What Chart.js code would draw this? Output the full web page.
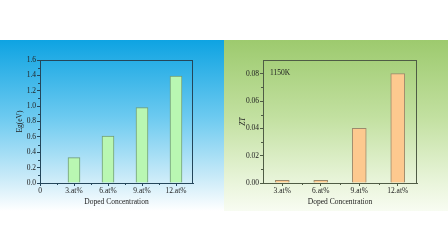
<!DOCTYPE html>
<html lang="en">
<head>
  <meta charset="UTF-8" />
  <title>Doped Concentration</title>
  <script src="https://cdn.jsdelivr.net/npm/chart.js"></script>
  <style>
    html, body { margin: 0; padding: 0; background: #fff; }
    body { width: 448px; height: 252px; position: relative; overflow: hidden; }
    .panel { position: absolute; top: 40px; width: 224px; height: 171px; }
    #left { left: 0; background: linear-gradient(to bottom, #0ea3e2 0%, #6ccaf0 45%, #c8eaf8 80%, #ffffff 100%); }
    #right { left: 224px; background: linear-gradient(to bottom, #9dca6e 0%, #c2e0a0 45%, #e6f3d6 80%, #f8fcf2 100%); }
    canvas { display: block; }
  </style>
</head>
<body>
  <div class="panel" id="left"><canvas id="egChart" width="224" height="171"></canvas></div>
  <div class="panel" id="right"><canvas id="ztChart" width="224" height="171"></canvas></div>

  <script>
    // left chart: band gap
    const egPos = [3, 6, 9, 12];
    const egValues = [0.33, 0.61, 0.98, 1.39];
    const egXTicks = [0, 3, 6, 9, 12];
    const egXMinor = [1.5, 4.5, 7.5, 10.5];
    const egYMinor = [0.1, 0.3, 0.5, 0.7, 0.9, 1.1, 1.3, 1.5];

    // right chart: ZT at 1150K
    const ztLabels = ['3.at%', '6.at%', '9.at%', '12.at%'];
    const ztValues = [0.002, 0.002, 0.04, 0.08];
    const ztYTicks = [0, 0.02, 0.04, 0.06, 0.08];
    const ztYMinor = [0.01, 0.03, 0.05, 0.07];

    const font = { family: '"Liberation Serif", "Times New Roman", serif', size: 7.5 };

    // minor ticks + box frame, drawn from the chart's own scales
    const framePlugin = {
      id: 'frame',
      afterDraw(chart, args, opts) {
        const ctx = chart.ctx, a = chart.chartArea;
        const xs = chart.scales.x, ys = chart.scales.y;
        ctx.save();
        ctx.strokeStyle = opts.color;
        ctx.lineWidth = 1;
        ctx.strokeRect(a.left + 0.5, a.top + 0.5, a.right - a.left - 1, a.bottom - a.top);
        ctx.beginPath();
        (opts.yMinor || []).forEach(v => {
          const y = Math.round(ys.getPixelForValue(v)) + 0.5;
          ctx.moveTo(a.left, y); ctx.lineTo(a.left - 2, y);
        });
        (opts.xMinor || []).forEach(v => {
          const x = Math.round(xs.getPixelForValue(v)) + 0.5;
          ctx.moveTo(x, a.bottom); ctx.lineTo(x, a.bottom + 2);
        });
        ctx.stroke();
        if (opts.note) {
          ctx.fillStyle = '#222';
          ctx.font = '7.5px "Liberation Serif", serif';
          ctx.textBaseline = 'middle';
          ctx.fillText(opts.note, a.left + 7, a.top + 13);
        }
        ctx.restore();
      }
    };

    function fixBox(width, height) {
      return {
        y: (s) => { s.width = width; },
        x: (s) => { s.height = height; }
      };
    }

    const egBox = fixBox(40, 28);
    new Chart(document.getElementById('egChart'), {
      type: 'bar',
      data: {
        datasets: [{
          data: egPos.map((p, i) => ({ x: p, y: egValues[i] })),
          backgroundColor: '#b9f7b2',
          borderColor: '#6f9c78',
          borderWidth: 1,
          barThickness: 12
        }]
      },
      options: {
        responsive: false,
        animation: false,
        layout: { padding: { left: 0, top: 20, right: 31, bottom: 0 } },
        plugins: {
          legend: { display: false },
          tooltip: { enabled: false },
          frame: { color: '#24465a', xMinor: egXMinor, yMinor: egYMinor }
        },
        scales: {
          x: {
            type: 'linear', min: 0, max: 13.5, offset: false,
            afterBuildTicks: (s) => { s.ticks = egXTicks.map(v => ({ value: v })); },
            afterFit: egBox.x,
            grid: { drawOnChartArea: false, offset: false, tickLength: 3, color: '#24465a' },
            border: { display: true, color: '#24465a' },
            ticks: { font, color: '#222', padding: 1, maxRotation: 0,
              callback: (v) => v === 0 ? '0' : v + '.at%' },
            title: { display: true, text: 'Doped Concentration', font, color: '#222', padding: { top: 0, bottom: 4 } }
          },
          y: {
            min: 0, max: 1.6,
            afterFit: egBox.y,
            grid: { drawOnChartArea: false, tickLength: 3, color: '#24465a' },
            border: { display: true, color: '#24465a' },
            ticks: { font, color: '#222', padding: 1, stepSize: 0.2,
              callback: (v) => v.toFixed(1) },
            title: { display: true, text: 'Eg(eV)', font, color: '#222', padding: { top: 16, bottom: 0 } }
          }
        }
      },
      plugins: [framePlugin]
    });

    const ztBox = fixBox(39, 28);
    new Chart(document.getElementById('ztChart'), {
      type: 'bar',
      data: {
        labels: ztLabels,
        datasets: [{
          data: ztValues,
          backgroundColor: '#fdc98f',
          borderColor: '#9c8a6c',
          borderWidth: 1,
          barThickness: 14
        }]
      },
      options: {
        responsive: false,
        animation: false,
        layout: { padding: { left: 0, top: 20, right: 31, bottom: 0 } },
        plugins: {
          legend: { display: false },
          tooltip: { enabled: false },
          frame: { color: '#4f5c45', xMinor: [0.5, 1.5, 2.5], yMinor: ztYMinor, note: '1150K' }
        },
        scales: {
          x: {
            afterFit: ztBox.x,
            grid: { drawOnChartArea: false, offset: false, tickLength: 3, color: '#4f5c45' },
            border: { display: true, color: '#4f5c45' },
            ticks: { font, color: '#222', padding: 1, maxRotation: 0 },
            title: { display: true, text: 'Doped Concentration', font, color: '#222', padding: { top: 0, bottom: 4 } }
          },
          y: {
            min: 0, max: 0.09,
            afterFit: ztBox.y,
            afterBuildTicks: (s) => { s.ticks = ztYTicks.map(v => ({ value: v })); },
            grid: { drawOnChartArea: false, tickLength: 3, color: '#4f5c45' },
            border: { display: true, color: '#4f5c45' },
            ticks: { font, color: '#222', padding: 1,
              callback: (v) => v.toFixed(2) },
            title: { display: true, text: 'ZT', font: Object.assign({}, font, { style: 'italic' }), color: '#222', padding: { top: 15, bottom: 0 } }
          }
        }
      },
      plugins: [framePlugin]
    });
  </script>
</body>
</html>
